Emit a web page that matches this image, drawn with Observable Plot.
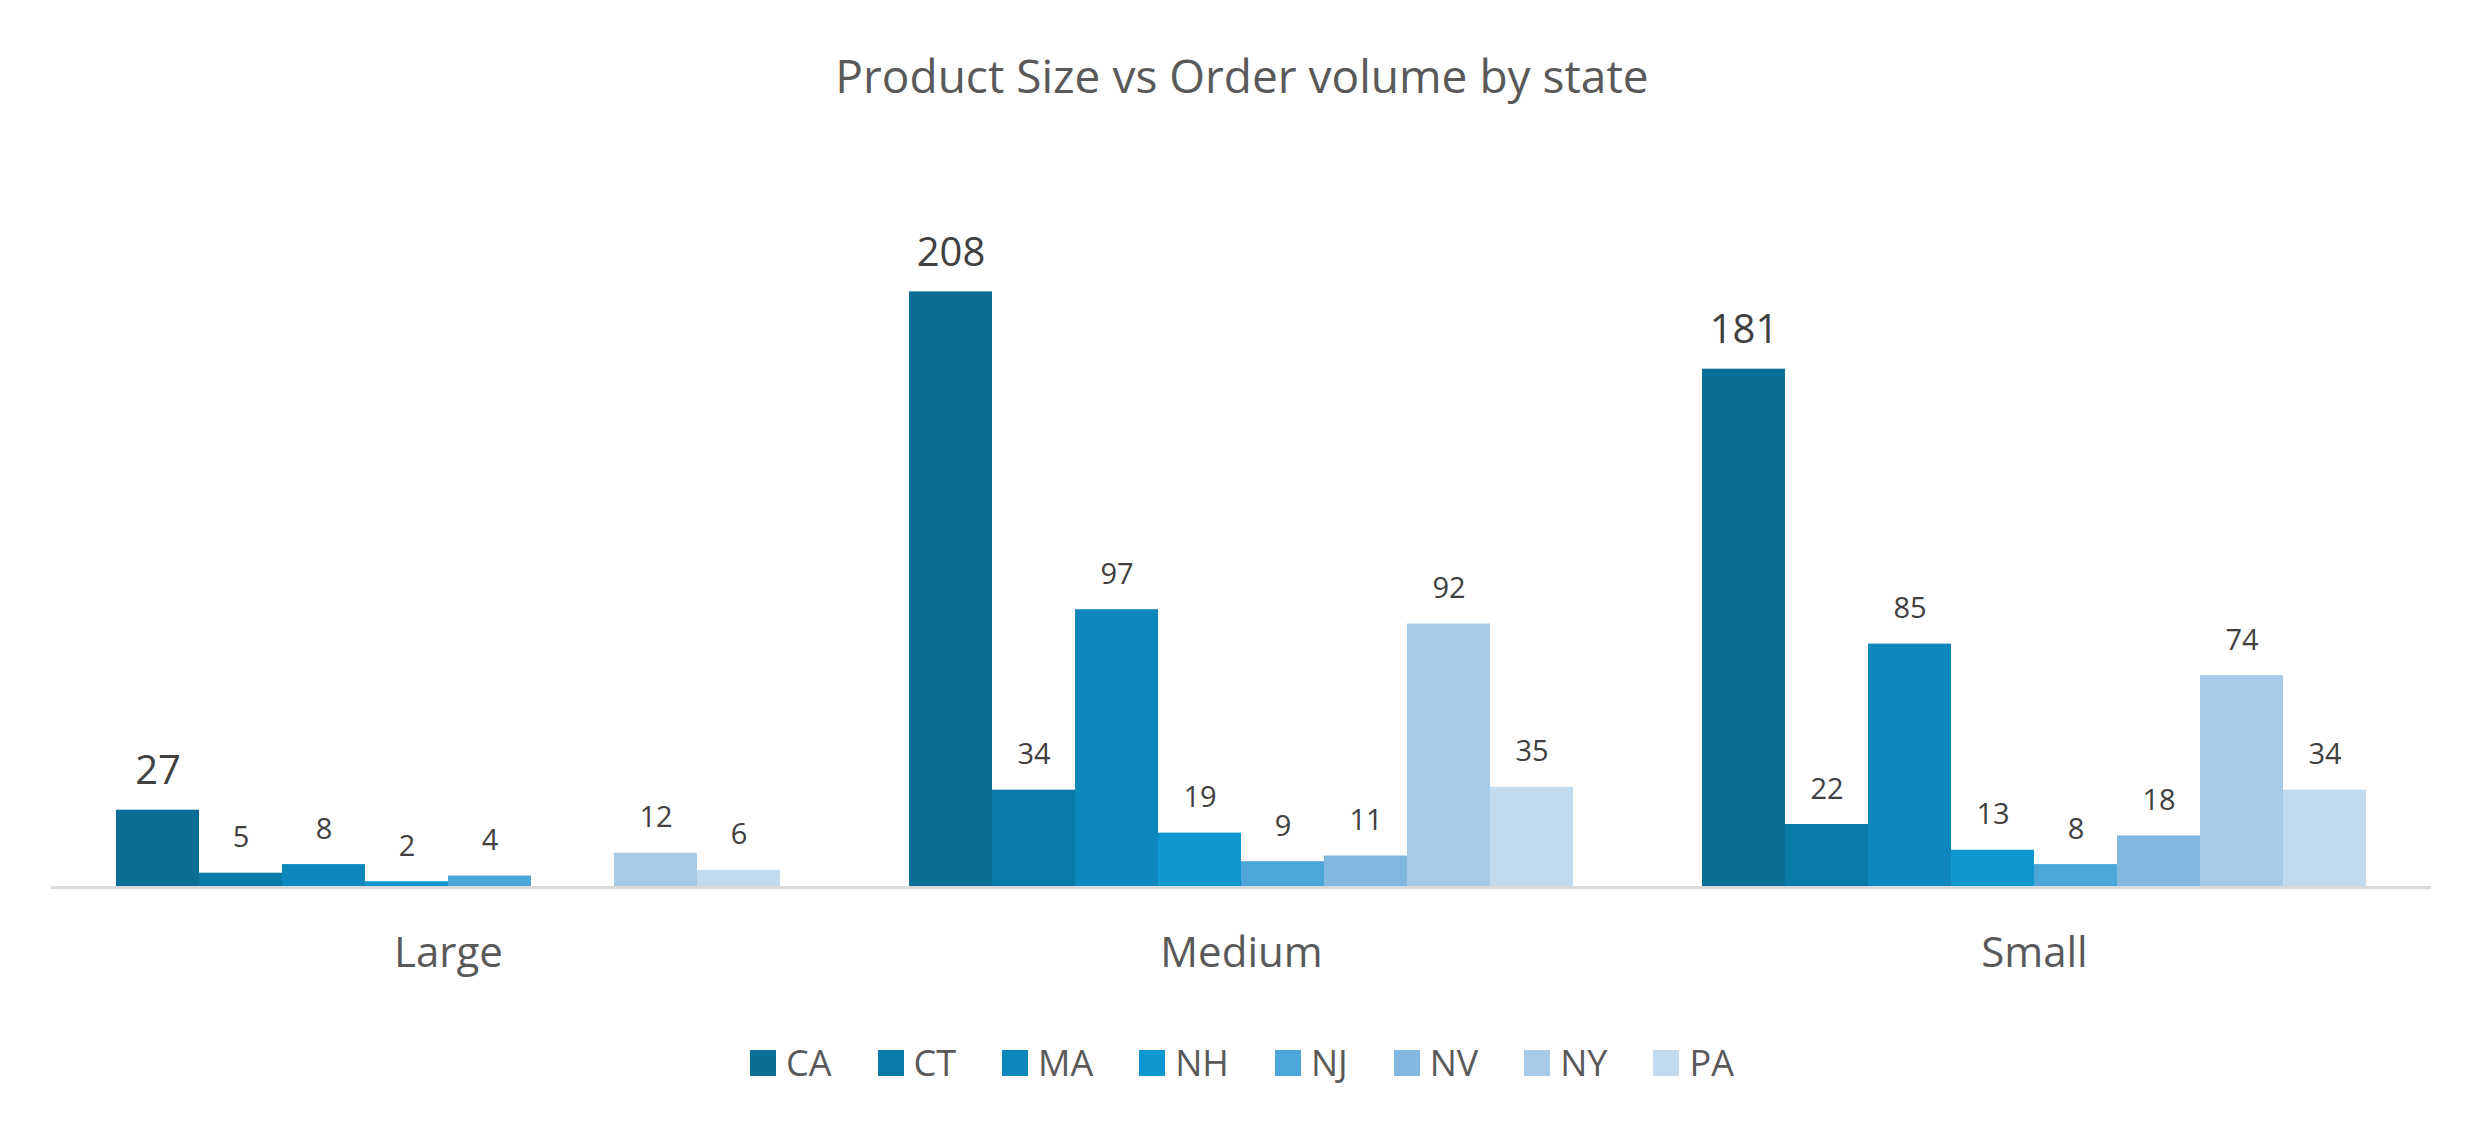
<!DOCTYPE html>
<html>
<head>
<meta charset="utf-8">
<script src="https://cdn.jsdelivr.net/npm/d3@7"></script>
<script src="https://cdn.jsdelivr.net/npm/@observablehq/plot@0.6"></script>
<style>
  body { margin: 0; background: #fff; font-family: "Open Sans", Lato, sans-serif; color: #595959; }
  .title { height: 130px; line-height: 150px; text-align: center; font-size: 46px; color: #595959; }
  .legend { display: flex; justify-content: center; gap: 46px; font-size: 36px; color: #595959; margin-top: 28px; }
  .legend span { display: inline-flex; align-items: center; gap: 10px; }
  .legend i { display: inline-block; width: 26px; height: 26px; }
</style>
</head>
<body>
<div class="title">Product Size vs Order volume by state</div>
<div id="chart"></div>
<div class="legend" id="legend"></div>
<script>
var sizes = ["Large", "Medium", "Small"];
var states = ["CA", "CT", "MA", "NH", "NJ", "NV", "NY", "PA"];
var colors = ["#0a6e96", "#0a7aa8", "#0e88bc", "#0f98cf", "#4da6d9", "#82b8df", "#a7cbe6", "#c2daed"];
var largeValues = [27, 5, 8, 2, 4, null, 12, 6];
var mediumValues = [208, 34, 97, 19, 9, 11, 92, 35];
var smallValues = [181, 22, 85, 13, 8, 18, 74, 34];

var series = [largeValues, mediumValues, smallValues];
var data = [];
sizes.forEach(function(size, i) {
    states.forEach(function(st, j) {
        if (series[i][j] != null) data.push({size: size, state: st, value: series[i][j]});
    });
});

var plot = Plot.plot({
    width: 2484,
    height: 880,
    marginLeft: 52,
    marginRight: 53,
    marginTop: 127,
    marginBottom: 123,
    style: {fontFamily: "'Open Sans', Lato, sans-serif"},
    fx: {domain: sizes, paddingInner: 0.16, paddingOuter: 0.08, label: null},
    x: {domain: states, padding: 0, axis: null},
    y: {domain: [0, 220], axis: null},
    color: {domain: states, range: colors},
    marks: [
        Plot.barY(data, {fx: "size", x: "state", y: "value", fill: "state", inset: 0}),
        Plot.text(data, {
            fx: "size", x: "state", y: "value", text: "value",
            dy: -26, lineAnchor: "bottom",
            fontSize: function(d) { return d.state === "CA" ? 40 : 29; },
            fill: "#404040"
        }),
        Plot.ruleY([0], {stroke: "#d9d9d9", strokeWidth: 3, insetLeft: -64, insetRight: -64}),
        Plot.axisFx({anchor: "bottom", tickSize: 0, tickPadding: 50, fontSize: 42, label: null, color: "#595959"})
    ]
});
document.getElementById("chart").appendChild(plot);

var legend = document.getElementById("legend");
states.forEach(function(st, i) {
    var s = document.createElement("span");
    s.innerHTML = '<i style="background:' + colors[i] + '"></i>' + st;
    legend.appendChild(s);
});
</script>
</body>
</html>
